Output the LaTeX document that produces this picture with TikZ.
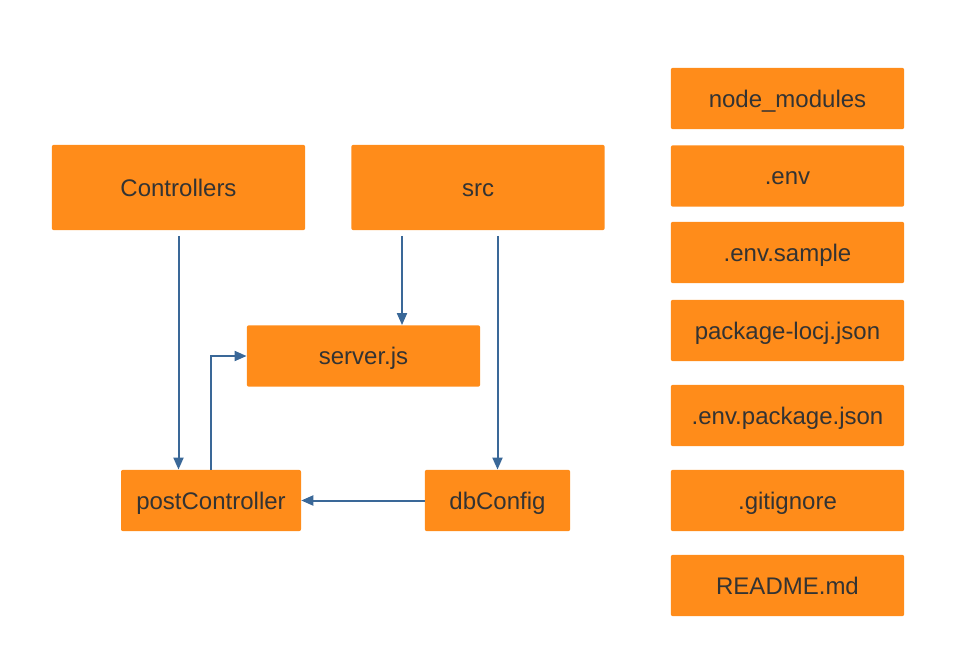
\documentclass[tikz,border=0pt]{standalone}
\usepackage{fontspec}
\setmainfont{Liberation Sans}
\usetikzlibrary{arrows.meta}
\definecolor{boxorange}{HTML}{FF8C1A}
\definecolor{txtgray}{HTML}{333333}
\definecolor{linkblue}{HTML}{3A6898}
\tikzset{
  box/.style={fill=boxorange, rounded corners=1.5pt, text=txtgray, inner sep=0pt,
    font=\fontsize{18}{20}\selectfont, text height=12.9pt, text depth=0pt,
    minimum height=46pt},
  bigbox/.style={box, minimum width=190pt, minimum height=64pt},
  filebox/.style={box, minimum width=175pt},
  link/.style={draw=linkblue, line width=1.5pt, -{Triangle[width=7.5pt,length=9pt]}}
}
\begin{document}
\begin{tikzpicture}[x=0.75pt,y=-0.75pt]
\useasboundingbox (0,0) rectangle (954,664);
\node[bigbox] (ctrl) at (178.5,187.5) {Controllers};
\node[bigbox] (src) at (478,187.5) {src};
\node[box,minimum width=175pt] (server) at (363.5,356) {server.js};
\node[box,minimum width=135pt] (post) at (211,500.5) {postController};
\node[box,minimum width=109pt] (dbc) at (497.5,500.5) {dbConfig};
\node[filebox] (mods) at (787.5,98.5) {node\_modules};
\node[filebox] (env) at (787.5,176) {.env};
\node[filebox] (envs) at (787.5,252.5) {.env.sample};
\node[filebox] (lock) at (787.5,330.5) {package-locj.json};
\node[filebox] (envp) at (787.5,415.5) {.env.package.json};
\node[filebox] (git) at (787.5,500.5) {.gitignore};
\node[filebox] (readme) at (787.5,585.5) {README.md};
\draw[link,shorten <=4pt] (ctrl.south) -- (ctrl.south |- post.north);
\draw[link,shorten <=4pt] ([xshift=-57pt]src.south) -- ([xshift=-57pt]src.south |- server.north);
\draw[link,shorten <=4pt] (src.south -| dbc.north) -- (dbc.north);
\draw[link] (dbc.west) -- (post.east);
\draw[link] (post.north) |- (server.west);
\end{tikzpicture}
\end{document}
